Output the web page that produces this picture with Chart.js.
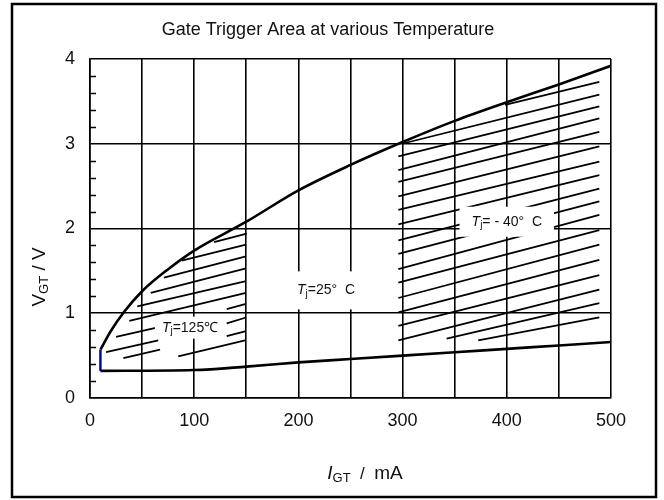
<!DOCTYPE html>
<html>
<head>
<meta charset="utf-8">
<script src="https://cdn.jsdelivr.net/npm/chart.js@4.4.1/dist/chart.umd.min.js"></script>
<style>
  html, body { margin: 0; padding: 0; background: #fff; }
  #wrap { width: 664px; height: 500px; }
</style>
</head>
<body>
<div id="wrap"><canvas id="myChart" width="664" height="500"></canvas></div>
<script>
// boundary curves (I in mA, V in volts)
var upperI = [10, 20, 33, 50, 75, 100, 150, 200, 250, 300, 350, 400, 450, 500];
var upperV = [0.57, 0.79, 1.02, 1.26, 1.52, 1.74, 2.08, 2.45, 2.75, 3.02, 3.27, 3.49, 3.70, 3.92];
var lowerI = [10, 100, 150, 200, 250, 300, 350, 400, 450, 500];
var lowerV = [0.32, 0.33, 0.37, 0.42, 0.46, 0.50, 0.54, 0.58, 0.62, 0.66];
var edgeI = [10, 10];
var edgeV = [0.32, 0.57];

// hatch segments [I1, V1, I2, V2]
var hatch125 = [
    [119.0, 1.84, 150.4, 1.94],
    [88.0, 1.62, 149.7, 1.81],
    [71.0, 1.42, 149.7, 1.67],
    [58.3, 1.24, 149.7, 1.53],
    [45.4, 1.08, 149.7, 1.38],
    [37.7, 0.91, 149.7, 1.24],
    [25.0, 0.72, 64.0, 0.83],
    [131.2, 1.05, 149.7, 1.11],
    [15.4, 0.54, 65.5, 0.68],
    [131.2, 0.88, 149.7, 0.95],
    [32.0, 0.47, 67.2, 0.57],
    [131.2, 0.73, 149.7, 0.79],
    [84.7, 0.49, 148.8, 0.68]
];
var hatch40 = [
    [398.3, 3.46, 488.8, 3.73],
    [299.4, 3.00, 488.8, 3.58],
    [295.9, 2.85, 488.8, 3.44],
    [295.9, 2.69, 488.8, 3.30],
    [295.9, 2.55, 488.8, 3.14],
    [295.9, 2.38, 488.8, 2.97],
    [295.9, 2.22, 488.8, 2.79],
    [295.9, 2.05, 488.8, 2.63],
    [295.9, 1.86, 488.8, 2.47],
    [295.9, 1.70, 488.8, 2.32],
    [295.9, 1.52, 488.8, 2.16],
    [295.9, 1.36, 488.8, 1.98],
    [295.9, 1.18, 488.8, 1.81],
    [295.9, 1.01, 488.8, 1.63],
    [295.9, 0.85, 488.8, 1.45],
    [295.9, 0.68, 488.8, 1.28],
    [342.3, 0.70, 488.8, 1.12],
    [372.6, 0.68, 488.8, 0.95]
];

var xTickLabels = [0, 100, 200, 300, 400, 500];
var yMinorTicks = [0.2, 0.4, 0.6, 0.8, 1.2, 1.4, 1.6, 1.8, 2.2, 2.4, 2.6, 2.8, 3.2, 3.4, 3.6, 3.8];

var FONT = '"Liberation Sans", Arial, sans-serif';

function pts(xs, ys) {
    return xs.map(function (x, i) { return { x: x, y: ys[i] }; });
}

var datasets = [];
hatch125.concat(hatch40).forEach(function (s) {
    datasets.push({ data: [{ x: s[0], y: s[1] }, { x: s[2], y: s[3] }], borderColor: '#000', borderWidth: 1.8 });
});
datasets.push({ data: pts(upperI, upperV), borderColor: '#000', borderWidth: 2.6, cubicInterpolationMode: 'monotone' });
datasets.push({ data: pts(lowerI, lowerV), borderColor: '#000', borderWidth: 2.6, cubicInterpolationMode: 'monotone' });
datasets.push({ data: pts(edgeI, edgeV), borderColor: '#00008b', borderWidth: 2.4 });
datasets.forEach(function (d) { d.showLine = true; d.pointRadius = 0; d.fill = false; });

// draw text made of pieces (normal, italic, subscript), centred on cx
function drawParts(c, parts, cx, cy) {
    var w = 0;
    parts.forEach(function (p) { c.font = p[1]; w += c.measureText(p[0]).width; });
    var x = cx - w / 2;
    c.textAlign = 'left';
    c.textBaseline = 'middle';
    parts.forEach(function (p) {
        c.font = p[1];
        c.fillText(p[0], x, cy + (p[2] || 0));
        x += c.measureText(p[0]).width;
    });
    return w;
}

var notes = [
    { x: 96, y: 0.83, rest: '=125\u2103', padX: 7, h: 22 },
    { x: 226.5, y: 1.27, rest: '=25\u00b0  C', padX: 6, h: 38 },
    { x: 400, y: 2.08, rest: '= - 40\u00b0  C', padX: 12, h: 30 }
];

var decor = {
    id: 'decor',
    beforeDraw: function (chart) {
        var c = chart.ctx;
        c.save();
        c.fillStyle = '#fff';
        c.fillRect(0, 0, chart.width, chart.height);
        c.restore();
    },
    afterDatasetsDraw: function (chart) {
        var c = chart.ctx, xs = chart.scales.x, ys = chart.scales.y;
        c.save();
        c.strokeStyle = '#000';
        c.lineWidth = 1.5;
        yMinorTicks.forEach(function (v) {
            var py = Math.round(ys.getPixelForValue(v)) + 0.5;
            c.beginPath();
            c.moveTo(xs.left, py);
            c.lineTo(xs.left + 6, py);
            c.stroke();
        });
        notes.forEach(function (n) {
            var px = xs.getPixelForValue(n.x), py = ys.getPixelForValue(n.y);
            var parts = [['T', 'italic 14px ' + FONT, 0], ['j', '10px ' + FONT, 4], [n.rest, '14px ' + FONT, 0]];
            var w = 0;
            parts.forEach(function (p) { c.font = p[1]; w += c.measureText(p[0]).width; });
            c.fillStyle = '#fff';
            c.fillRect(px - w / 2 - n.padX, py - n.h / 2, w + 2 * n.padX, n.h);
            c.fillStyle = '#111';
            drawParts(c, parts, px, py);
        });
        c.restore();
    },
    afterDraw: function (chart) {
        var c = chart.ctx;
        c.save();
        c.fillStyle = '#111';
        c.font = '18px ' + FONT;
        c.textAlign = 'center';
        c.textBaseline = 'middle';
        c.fillText('Gate Trigger Area at various Temperature', 328, 30);

        drawParts(c, [['I', 'italic 19px ' + FONT, 0], ['GT', '13px ' + FONT, 4], ['  /  ', '17px ' + FONT, 0], ['mA', '19px ' + FONT, 0]], 365, 474);

        c.translate(40, 277);
        c.rotate(-Math.PI / 2);
        drawParts(c, [['V', '19px ' + FONT, 0], ['GT', '13px ' + FONT, 4], [' / V', '19px ' + FONT, 0]], 0, 0);
        c.restore();

        c.save();
        c.strokeStyle = '#000';
        c.lineWidth = 2.5;
        c.strokeRect(12, 4, 644, 493);
        c.restore();
    }
};

var ctx = document.getElementById('myChart').getContext('2d');
var myChart = new Chart(ctx, {
    type: 'scatter',
    data: { datasets: datasets },
    options: {
        responsive: false,
        animation: false,
        devicePixelRatio: 1,
        layout: { padding: { top: 59, right: 53, bottom: 0, left: 0 } },
        plugins: { legend: { display: false }, tooltip: { enabled: false } },
        scales: {
            x: {
                type: 'linear', min: 0, max: 500,
                afterFit: function (s) { s.height = 102; },
                grid: { color: '#000', lineWidth: 1.6, drawTicks: false },
                border: { color: '#000', width: 1.6 },
                ticks: {
                    stepSize: 50, autoSkip: false, maxRotation: 0, padding: 12,
                    color: '#111', font: { family: FONT, size: 18 },
                    callback: function (v) { return xTickLabels.indexOf(v) > -1 ? String(v) : ''; }
                }
            },
            y: {
                type: 'linear', min: 0, max: 4,
                afterFit: function (s) { s.width = 90; },
                grid: { color: '#000', lineWidth: 1.6, drawTicks: false },
                border: { color: '#000', width: 1.6 },
                ticks: { stepSize: 1, padding: 15, color: '#111', font: { family: FONT, size: 18 } }
            }
        }
    },
    plugins: [decor]
});
</script>
</body>
</html>
